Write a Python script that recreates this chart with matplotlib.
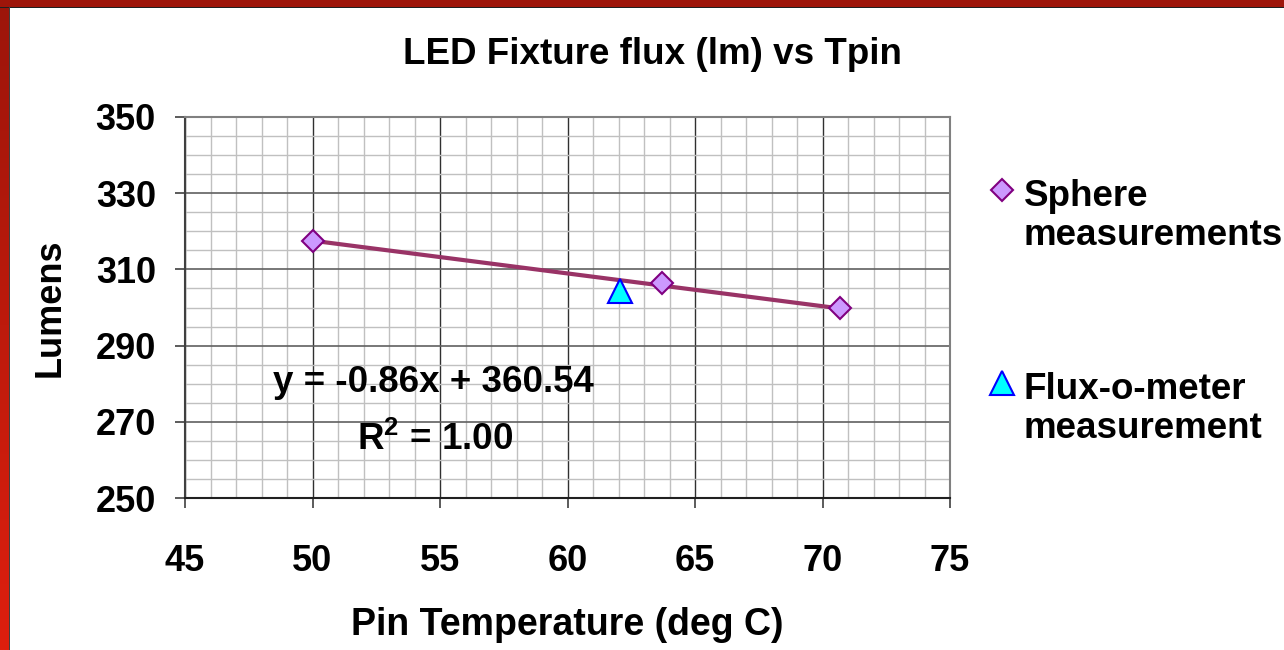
import numpy as np
import matplotlib
matplotlib.use("Agg")
import matplotlib.pyplot as plt
from matplotlib.colors import LinearSegmentedColormap
from matplotlib.patches import Rectangle
from matplotlib.ticker import MultipleLocator, FixedLocator

plt.rcParams["font.family"] = ["Liberation Sans", "DejaVu Sans"]
plt.rcParams["font.weight"] = "bold"
plt.rcParams["mathtext.fontset"] = "custom"
plt.rcParams["mathtext.rm"] = "Liberation Sans:bold"
plt.rcParams["mathtext.bf"] = "Liberation Sans:bold"
plt.rcParams["mathtext.default"] = "bf"

# sphere measurements (pin temperature, lumens)
sphere_temp = [50.0, 63.7, 70.7]
sphere_lm = [317.5, 306.5, 299.8]
# flux-o-meter measurement
flux_temp = [62.05]
flux_lm = [304.3]
# linear trend shown on the chart
slope, intercept = -0.86, 360.54
r_squared = 1.00
y_ticks = [250, 270, 290, 310, 330, 350]

W, H = 1284, 650
fig = plt.figure(figsize=(W / 100, H / 100), dpi=100)
fig.patch.set_facecolor("white")

# slide frame: red bands on top and left
grad = fig.add_axes([0, 0, 9 / W, 1])
grad.imshow(np.linspace(0, 1, 256).reshape(-1, 1), aspect="auto",
            cmap=LinearSegmentedColormap.from_list("fr", ["#9c150a", "#de1f0e"]))
grad.set_axis_off()
fig.patches.append(Rectangle((0, 1 - 7 / H), 1, 7 / H, transform=fig.transFigure,
                             facecolor="#9e150a", edgecolor="none", zorder=5))
fig.patches.append(Rectangle((0, 1 - 8 / H), 1, 1 / H, transform=fig.transFigure,
                             facecolor="#202020", edgecolor="none", zorder=5))
fig.patches.append(Rectangle((9 / W, 0), 1 / W, 1 - 7 / H, transform=fig.transFigure,
                             facecolor="#404040", edgecolor="none", zorder=5))

ax = fig.add_axes([185 / W, 1 - 498 / H, (950 - 185) / W, (498 - 117) / H])
ax.set_xlim(45, 75)
ax.set_ylim(250, 350)
ax.xaxis.set_major_locator(MultipleLocator(5))
ax.xaxis.set_minor_locator(MultipleLocator(1))
ax.yaxis.set_major_locator(FixedLocator(y_ticks))
ax.yaxis.set_minor_locator(MultipleLocator(5))
ax.grid(which="minor", color="#c0c0c0", linewidth=1.0)
ax.grid(which="major", axis="x", color="#303030", linewidth=1.0)
ax.grid(which="major", axis="y", color="#606060", linewidth=1.2)
ax.set_axisbelow(True)
ax.tick_params(which="minor", length=0)
ax.tick_params(which="major", length=7, width=1.2, color="#404040", labelsize=26)
ax.tick_params(axis="x", pad=26)
ax.tick_params(axis="y", pad=14)
for s in ["top", "right"]:
    ax.spines[s].set_color("#808080")
    ax.spines[s].set_linewidth(1.5)
ax.spines["left"].set_color("#404040")
ax.spines["left"].set_linewidth(1.5)
ax.spines["bottom"].set_color("#202020")
ax.spines["bottom"].set_linewidth(1.5)

tx = np.array([min(sphere_temp), max(sphere_temp)])
ax.plot(tx, slope * tx + intercept, color="#993366", linewidth=3, zorder=3,
        solid_capstyle="butt")
ax.plot(sphere_temp, sphere_lm, linestyle="none", marker="D", markersize=11,
        markerfacecolor="#cc99ff", markeredgecolor="#800080", markeredgewidth=1.5, zorder=4)
ax.plot(flux_temp, flux_lm, linestyle="none", marker="^", markersize=17,
        markerfacecolor="#00ffff", markeredgecolor="#0000ff", markeredgewidth=1.5, zorder=4)

ax.text(54.73, 280.2, f"y = {slope:.2f}x + {intercept:.2f}", fontsize=26.5,
        fontweight="bold", ha="center", va="center")
ax.text(54.8, 265.2, "R$^2$" + f" = {r_squared:.2f}", fontsize=26.5,
        fontweight="bold", ha="center", va="center")

fig.text(652 / W, 1 - 55 / H, "LED Fixture flux (lm) vs Tpin", fontsize=26.5,
         fontweight="bold", ha="center", va="center")
ax.set_xlabel("Pin Temperature (deg C)", fontsize=27, fontweight="bold", labelpad=20)
ax.set_ylabel("Lumens", fontsize=26, fontweight="bold", labelpad=20)

# legend drawn at the right of the plot
fig.lines.append(plt.Line2D([1002 / W], [1 - 190 / H], transform=fig.transFigure,
                            marker="D", markersize=11, markerfacecolor="#cc99ff",
                            markeredgecolor="#800080", markeredgewidth=1.5))
fig.lines.append(plt.Line2D([1002 / W], [1 - 383 / H], transform=fig.transFigure,
                            marker="^", markersize=17, markerfacecolor="#00ffff",
                            markeredgecolor="#0000ff", markeredgewidth=1.5))
fig.text(1024 / W, 1 - 245 / H, "Sphere\nmeasurements", fontsize=26.5, fontweight="bold",
         ha="left", va="baseline", linespacing=1.16)
fig.text(1024 / W, 1 - 438 / H, "Flux-o-meter\nmeasurement", fontsize=26.5, fontweight="bold",
         ha="left", va="baseline", linespacing=1.16)

fig.savefig("out.png", dpi=100)
